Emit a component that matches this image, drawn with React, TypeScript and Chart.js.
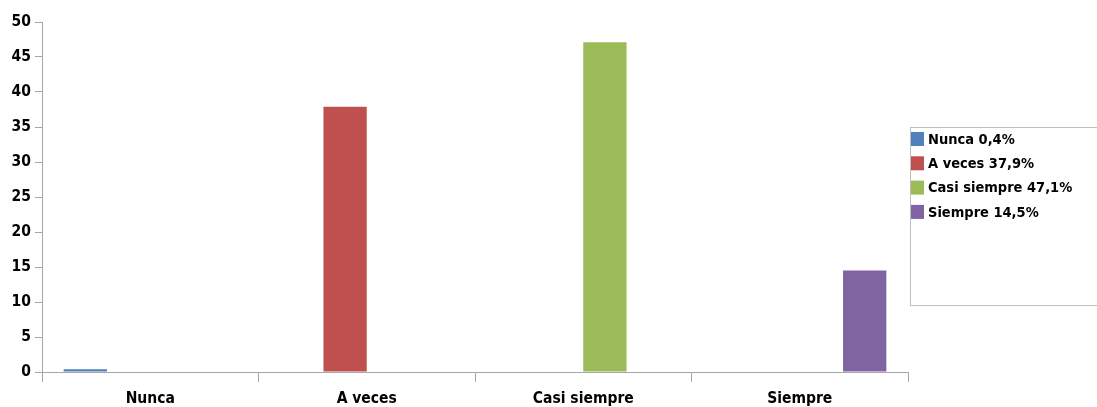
import React, { useEffect, useRef } from "react";
import { Chart, registerables } from "chart.js";

Chart.register(...registerables);

const categories = ["Nunca", "A veces", "Casi siempre", "Siempre"];
const values = [0.4, 37.9, 47.1, 14.5];
const legendLabels = ["Nunca 0,4%", "A veces 37,9%", "Casi siempre 47,1%", "Siempre 14,5%"];
const colors = ["#4F81BD", "#C0504D", "#9BBB59", "#8064A2"];
const yTicks = [0, 5, 10, 15, 20, 25, 30, 35, 40, 45, 50];

const FONT = "'DejaVu Sans Condensed', 'DejaVu Sans', sans-serif";

const legendBox = {
  id: "legendBox",
  afterDraw(chart: any) {
    const ctx = chart.ctx;
    ctx.save();
    ctx.strokeStyle = "#BFBFBF";
    ctx.lineWidth = 1;
    ctx.strokeRect(910.5, 127.5, 200, 178);
    ctx.font = `bold 14.5px ${FONT}`;
    ctx.textBaseline = "middle";
    ctx.textAlign = "left";
    chart.data.datasets.forEach((ds: any, i: number) => {
      const y = 139 + i * 24.3;
      ctx.fillStyle = ds.backgroundColor;
      ctx.fillRect(911, y - 7, 13, 14);
      ctx.fillStyle = "#000";
      ctx.fillText(ds.label, 928, y + 1);
    });
    ctx.restore();
  },
};

export default function App() {
  const ref = useRef<HTMLCanvasElement>(null);
  useEffect(() => {
    const datasets = categories.map((_, i) => ({
      label: legendLabels[i],
      data: categories.map((_, j) => (j === i ? values[i] : null)),
      backgroundColor: colors[i],
      borderWidth: 0,
      categoryPercentage: 0.8,
      barPercentage: 1.0,
    }));
    const chart = new Chart(ref.current!, {
      type: "bar",
      data: { labels: categories, datasets },
      plugins: [legendBox],
      options: {
        responsive: false,
        animation: false,
        layout: { padding: { top: 22, right: 189, left: 0, bottom: 0 } },
        plugins: { legend: { display: false }, tooltip: { enabled: false } },
        scales: {
          x: {
            afterFit: (s: any) => { s.height = 35; },
            grid: { offset: true, drawOnChartArea: false, tickLength: 10, color: "#A6A6A6" },
            border: { color: "#A6A6A6" },
            ticks: { color: "#000", font: { family: FONT, size: 15.5, weight: "bold" }, padding: 8 },
          },
          y: {
            min: 0,
            max: 50,
            afterFit: (s: any) => { s.width = 42; },
            afterBuildTicks: (s: any) => { s.ticks = yTicks.map((v) => ({ value: v })); },
            grid: { drawOnChartArea: false, tickLength: 7, color: "#A6A6A6" },
            border: { color: "#A6A6A6" },
            ticks: { color: "#000", font: { family: FONT, size: 15.5, weight: "bold" }, padding: 4 },
          },
        },
      },
    });
    return () => chart.destroy();
  }, []);
  return (
    <div style={{ position: "fixed", left: 0, top: 0, width: 1097, height: 407, background: "#fff" }}>
      <canvas ref={ref} width={1097} height={407} />
    </div>
  );
}
